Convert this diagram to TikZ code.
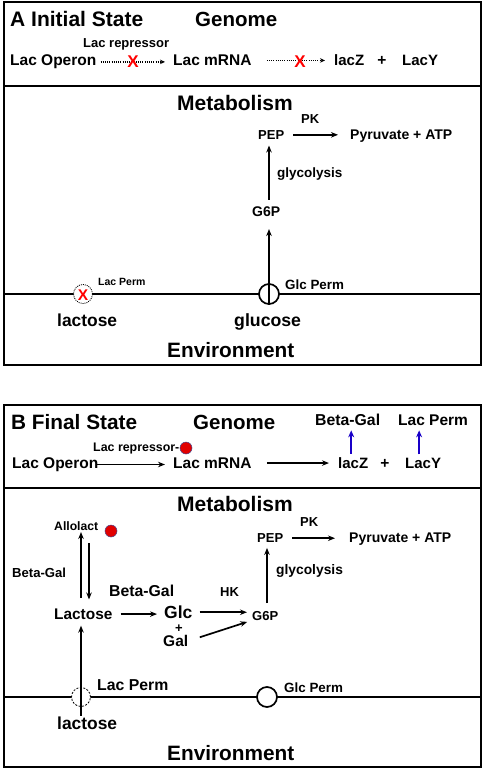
\documentclass[tikz,border=0pt]{standalone}
\usepackage{fontspec}
\setmainfont{Liberation Sans}
\usetikzlibrary{arrows.meta,calc}
\newcommand{\fsz}[1]{\fontsize{#1}{#1}\selectfont\bfseries}
\definecolor{dotred}{RGB}{225,0,0}
\definecolor{dotedge}{RGB}{70,70,140}
\definecolor{myblue}{RGB}{25,0,200}
\definecolor{xred}{RGB}{255,0,0}
\begin{document}
\begin{tikzpicture}[x=1pt,y=-1pt,
  txt/.style={inner sep=0pt,anchor=base west},
  arr/.style={line width=1.7pt,-{Stealth[length=7pt,width=5.5pt]}},
  darr/.style={line width=1.3pt,dash pattern=on 1.1pt off 1.1pt,-{Stealth[length=5pt,width=4.5pt]}},
  barr/.style={line width=2pt,draw=myblue,-{Stealth[length=7pt,width=6pt]}},
  frame/.style={line width=2pt},
  memb/.style={line width=2pt},
  redx/.style={inner sep=0pt,text=xred,font=\fsz{17}},
  reddot/.style={circle,fill=dotred,draw=dotedge,line width=0.5pt,minimum size=12pt,inner sep=0pt},
]
\useasboundingbox (0,0) rectangle (484,771);
\fill[white] (0,0) rectangle (484,771);

% ---------------- Panel A ----------------
\draw[frame] (4,2) rectangle (480.5,365);
\draw[frame] (4,86) -- (480.5,86);
\draw[memb] (4,294) -- (480.5,294);

\node[circle,draw,fill=white,line width=1.7pt,minimum size=20pt,inner sep=0pt] (glcpA) at (269,294) {};
\node[circle,draw,fill=white,line width=0.8pt,dash pattern=on 1pt off 1pt,minimum size=19pt,inner sep=0pt] (lacpA) at (83,294) {};
\node[redx,font=\fsz{15.5}] (xA0) at (83,295) {X};

\node[txt,font=\fsz{21}] (titleA) at (10,27) {A Initial State};
\node[txt,font=\fsz{20.5}] (genA) at (195,27) {Genome};
\node[txt,font=\fsz{13}] (repA) at (83,47.3) {Lac repressor};
\node[txt,font=\fsz{15.5}] (opA) at (10,65.7) {Lac Operon};
\node[txt,font=\fsz{15.5}] (mrnaA) at (173,65.7) {Lac mRNA};
\node[txt,font=\fsz{15}] (lacZA) at (334,65.7) {lacZ};
\node[inner sep=0pt,anchor=base,font=\fsz{15.5}] (plusA) at (382,65.7) {+};
\node[txt,font=\fsz{15}] (lacYA) at (402,65.7) {LacY};
\node[txt,font=\fsz{21}] (metA) at (177,110.7) {Metabolism};
\node[txt,font=\fsz{13}] (pkA) at (301,123.3) {PK};
\node[txt,font=\fsz{13}] (pepA) at (258,139.3) {PEP};
\node[txt,font=\fsz{14}] (pyrA) at (350,139.3) {Pyruvate + ATP};
\node[txt,font=\fsz{13.5}] (glyA) at (277,177.3) {glycolysis};
\node[txt,font=\fsz{14}] (g6pA) at (252,216.7) {G6P};
\node[txt,font=\fsz{13.4}] (glcpLA) at (285,289.3) {Glc Perm};
\node[txt,font=\fsz{10.5}] (lacpLA) at (98,285.7) {Lac Perm};
\node[txt,font=\fsz{17.4}] (lactA) at (57,326) {lactose};
\node[txt,font=\fsz{17.7}] (glucA) at (234,326) {glucose};
\node[txt,font=\fsz{20.8}] (envA) at (167,357.3) {Environment};

\draw[darr,shorten <=4pt,shorten >=8pt] (opA.east) -- (opA.east -| mrnaA.west);
\draw[darr,shorten <=15pt,shorten >=9pt] (mrnaA.east) -- (mrnaA.east -| lacZA.west);
\node[redx] (xA1) at (133,62) {X};
\node[redx] (xA2) at (300,62) {X};
\draw[arr,shorten <=9pt,shorten >=12pt] (pepA.east) -- (pepA.east -| pyrA.west);
\draw[arr,shorten <=7pt,shorten >=6pt] (glcpA.center |- g6pA.north) -- (glcpA.center |- pepA.south);
\draw[arr,shorten >=12pt] (glcpA.south) -- (glcpA.center |- g6pA.south);

% ---------------- Panel B ----------------
\draw[frame] (4,405) rectangle (480.5,767);
\draw[frame] (4,488) -- (480.5,488);
\draw[memb] (4,697) -- (480.5,697);

\node[circle,draw,fill=white,line width=0.8pt,dash pattern=on 2pt off 1.5pt,minimum size=19pt,inner sep=0pt] (lacpB) at (81,697) {};
\node[circle,draw,fill=white,line width=1.7pt,minimum size=20pt,inner sep=0pt] (glcpB) at (267,697) {};

\node[txt,font=\fsz{20.8}] (titleB) at (11,429.3) {B Final State};
\node[txt,font=\fsz{20.5}] (genB) at (193,429.3) {Genome};
\node[txt,font=\fsz{15.8}] (bgT) at (315,425) {Beta-Gal};
\node[txt,font=\fsz{15.5}] (lpT) at (398,425) {Lac Perm};
\node[txt,font=\fsz{12.4}] (repB) at (93,451.7) {Lac repressor-};
\node[reddot] (dotRep) at (186,448) {};
\node[txt,font=\fsz{15.5}] (opB) at (12,468.3) {Lac Operon};
\node[txt,font=\fsz{15.5}] (mrnaB) at (173,468.3) {Lac mRNA};
\node[txt,font=\fsz{15}] (lacZB) at (338,468.3) {lacZ};
\node[inner sep=0pt,anchor=base,font=\fsz{15.5}] (plusB) at (385,468.3) {+};
\node[txt,font=\fsz{15}] (lacYB) at (405,468.3) {LacY};

\node[txt,font=\fsz{21}] (metB) at (177,511.7) {Metabolism};
\node[txt,font=\fsz{12.2}] (alloB) at (54,530.7) {Allolact};
\node[reddot] (dotAllo) at (111,531) {};
\node[txt,font=\fsz{13}] (pkB) at (300,526.7) {PK};
\node[txt,font=\fsz{13}] (pepB) at (257,542.7) {PEP};
\node[txt,font=\fsz{14}] (pyrB) at (349,542.7) {Pyruvate + ATP};
\node[txt,font=\fsz{13.8}] (glyB) at (276,574) {glycolysis};
\node[txt,font=\fsz{13.1}] (bgL) at (12,577.3) {Beta-Gal};
\node[txt,font=\fsz{15.8}] (bgM) at (109,596) {Beta-Gal};
\node[txt,font=\fsz{13}] (hkB) at (220,596) {HK};
\node[txt,font=\fsz{15.4}] (lacB) at (54,619.3) {Lactose};
\node[txt,font=\fsz{17.5}] (glcB) at (164,618.5) {Glc};
\node[inner sep=0pt,font=\fsz{13}] (plusGB) at (179,628.5) {+};
\node[txt,font=\fsz{15.5}] (galB) at (163,646.5) {Gal};
\node[txt,font=\fsz{13}] (g6pB) at (252,620) {G6P};
\node[txt,font=\fsz{15.8}] (lacpLB) at (97,690.7) {Lac Perm};
\node[txt,font=\fsz{13.4}] (glcpLB) at (284,692.7) {Glc Perm};
\node[txt,font=\fsz{17.4}] (lactB) at (57,729.3) {lactose};
\node[txt,font=\fsz{20.8}] (envB) at (167,760) {Environment};

\draw[arr,shorten <=-2pt,shorten >=8pt] (opB.east) -- (opB.east -| mrnaB.west);
\draw[arr,shorten <=15pt,shorten >=9pt] (mrnaB.east) -- (mrnaB.east -| lacZB.west);
\draw[barr,shorten <=3.5pt,shorten >=5pt] ([xshift=-2pt]lacZB.north) -- ([xshift=-2pt]lacZB.north |- bgT.south);
\draw[barr,shorten <=3.5pt,shorten >=5pt] ([xshift=-4pt]lacYB.north) -- ([xshift=-4pt]lacYB.north |- lpT.south);
\draw[arr,shorten <=9pt,shorten >=14pt] (pepB.east) -- (pepB.east -| pyrB.west);
\draw[arr,shorten <=7.5pt,shorten >=5pt] (glcpB.center |- g6pB.north) -- (glcpB.center |- pepB.south);
\draw[arr,shorten <=8pt,shorten >=7pt] (lacB.east) -- (lacB.east -| glcB.west);
\draw[arr,shorten <=7pt,shorten >=5pt] (glcB.east) -- (glcB.east -| g6pB.west);
\draw[arr,shorten <=12pt,shorten >=5pt] (galB.east) -- (g6pB.south west);
\draw[arr,shorten <=11pt,shorten >=1pt] (lacpB.center |- lacB.north) -- (lacpB.center |- alloB.south);
\draw[arr,shorten <=12pt,shorten >=9pt] ([xshift=8pt]lacpB.center |- alloB.south) -- ([xshift=8pt]lacpB.center |- lacB.north);
\draw[arr,shorten <=1pt,shorten >=6pt] (lacpB.center |- lactB.north) -- (lacpB.center |- lacB.south);

\end{tikzpicture}
\end{document}
